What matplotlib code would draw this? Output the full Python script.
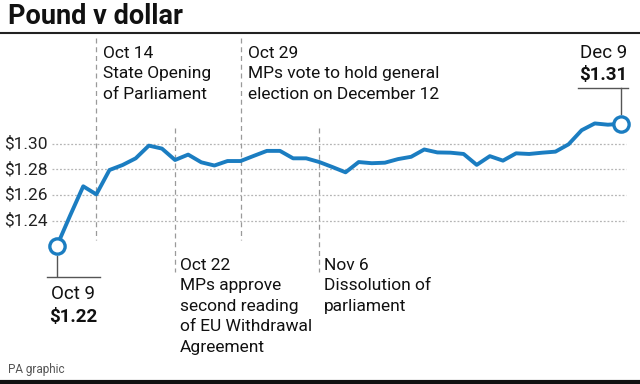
import matplotlib
matplotlib.use('Agg')

import numpy as np
import matplotlib.pyplot as plt
import matplotlib.transforms as mtransforms

plt.rcParams['font.family'] = ['Roboto', 'DejaVu Sans']

# trading days, Oct 9 2019 -> Dec 9 2019
dates = ['Oct 9', 'Oct 10', 'Oct 11', 'Oct 14', 'Oct 15', 'Oct 16', 'Oct 17', 'Oct 18',
         'Oct 21', 'Oct 22', 'Oct 23', 'Oct 24', 'Oct 25', 'Oct 28', 'Oct 29', 'Oct 30',
         'Oct 31', 'Nov 1', 'Nov 4', 'Nov 5', 'Nov 6', 'Nov 7', 'Nov 8', 'Nov 11',
         'Nov 12', 'Nov 13', 'Nov 14', 'Nov 15', 'Nov 18', 'Nov 19', 'Nov 20', 'Nov 21',
         'Nov 22', 'Nov 25', 'Nov 26', 'Nov 27', 'Nov 28', 'Nov 29', 'Dec 2', 'Dec 3',
         'Dec 4', 'Dec 5', 'Dec 6', 'Dec 9']
rate = [1.2205, 1.2440, 1.2668, 1.2605, 1.2795, 1.2834, 1.2886, 1.2985, 1.2962, 1.2873,
        1.2915, 1.2855, 1.2830, 1.2865, 1.2865, 1.2905, 1.2944, 1.2944, 1.2886, 1.2886,
        1.2857, 1.2818, 1.2777, 1.2857, 1.2848, 1.2852, 1.2880, 1.2898, 1.2955, 1.2932,
        1.2930, 1.2920, 1.2835, 1.2903, 1.2868, 1.2925, 1.2920, 1.2930, 1.2938, 1.2995,
        1.3105, 1.3158, 1.3148, 1.3155]
y_ticks = [1.24, 1.26, 1.28, 1.30]
y_labels = ['$1.24', '$1.26', '$1.28', '$1.30']
start_label = '$1.22'
end_label = '$1.31'

events_top = [('Oct 14', 'State Opening\nof Parliament'),
              ('Oct 29', 'MPs vote to hold general\nelection on December 12')]
events_bottom = [('Oct 22', 'MPs approve\nsecond reading\nof EU Withdrawal\nAgreement'),
                 ('Nov 6', 'Dissolution of\nparliament')]

W, H = 640, 384
blue = '#1b7dc1'
grey = '#9a9a9a'
ink = '#111111'

x = np.arange(len(rate))

fig = plt.figure(figsize=(W / 100, H / 100), dpi=100)
ax = fig.add_axes([0, 0, 1, 1])
ax.axis('off')

# map index / value to pixels: idx0 -> 57px, last -> 621px ; 1.30 -> 143.7px, 1.24 -> 220.7px
px_per_idx = (621 - 57) / (len(rate) - 1)
px_per_unit = (220.7 - 143.7) / 0.06
ax.set_xlim(-57 / px_per_idx, (W - 57) / px_per_idx)
ax.set_ylim(1.30 - (H - 143.7) / px_per_unit, 1.30 + 143.7 / px_per_unit)


def fy(py):
    # pixel from top -> axes fraction
    return 1 - py / H


def fx(px):
    return px / W


bl = mtransforms.blended_transform_factory(ax.transData, ax.transAxes)
bl_y = mtransforms.blended_transform_factory(ax.transAxes, ax.transData)

# gridlines + labels
for t, lab in zip(y_ticks, y_labels):
    ax.axhline(t, xmin=fx(52), xmax=fx(626), color='#b5b5b5', lw=0.9, ls=(0, (1.5, 1.5)), zorder=1)
    ax.text(fx(48), t, lab, transform=bl_y, ha='right', va='center', fontsize=12.5, color='#222222')

# event lines and labels
for d, txt in events_top:
    i = dates.index(d)
    ax.plot([i, i], [fy(38), fy(240)], transform=bl, color=grey, lw=0.9, ls=(0, (4, 3)), zorder=1)
    ax.text(i + 7 / px_per_idx, fy(46), d + '\n' + txt, transform=bl, ha='left', va='top',
            fontsize=12.5, color=ink, linespacing=1.45)

for d, txt in events_bottom:
    i = dates.index(d)
    ax.plot([i, i], [fy(128), fy(272)], transform=bl, color=grey, lw=0.9, ls=(0, (4, 3)), zorder=1)
    ax.text(i + 5 / px_per_idx, fy(258), d + '\n' + txt, transform=bl, ha='left', va='top',
            fontsize=12.5, color=ink, linespacing=1.45)

# series
ax.plot(x, rate, color=blue, lw=2.8, solid_joinstyle='round', zorder=3)
ax.plot([x[0], x[-1]], [rate[0], rate[-1]], 'o', ms=11, mfc='white', mec=blue, mew=2.4, zorder=4)

# start callout
ax.plot([x[0], x[0]], [fy(256), fy(276)], transform=bl, color='#555555', lw=1, zorder=2)
ax.plot([x[0] - 10 / px_per_idx, x[0] + 43 / px_per_idx], [fy(277), fy(277)], transform=bl,
        color='#555555', lw=1, zorder=2)
ax.text(x[0] + 16 / px_per_idx, fy(285), dates[0], transform=bl, ha='center', va='top',
        fontsize=13.5, color=ink)
ax.text(x[0] + 16 / px_per_idx, fy(308), start_label, transform=bl, ha='center', va='top',
        fontsize=13.5, fontweight='bold', color=ink)

# end callout
ax.plot([x[-1], x[-1]], [fy(88), fy(114)], transform=bl, color='#555555', lw=1, zorder=2)
ax.plot([x[-1] - 43 / px_per_idx, x[-1] + 7 / px_per_idx], [fy(88), fy(88)], transform=bl,
        color='#555555', lw=1, zorder=2)
ax.text(x[-1] + 6 / px_per_idx, fy(44), dates[-1], transform=bl, ha='right', va='top',
        fontsize=13.5, color=ink)
ax.text(x[-1] + 6 / px_per_idx, fy(66), end_label, transform=bl, ha='right', va='top',
        fontsize=13.5, fontweight='bold', color=ink)

# title, rules, source
fig.text(0.012, fy(17), 'Pound v dollar', ha='left', va='center', fontsize=19.5, fontweight='bold',
         color=ink)
fig.add_artist(plt.Line2D([0, 1], [fy(33), fy(33)], color='#222222', lw=1.5))
fig.add_artist(plt.Line2D([0, 1], [fy(382), fy(382)], color=ink, lw=3))
fig.text(0.012, fy(370), 'PA graphic', ha='left', va='center', fontsize=8.5, color='#555555')

fig.savefig('out.png', dpi=100, facecolor='white')
